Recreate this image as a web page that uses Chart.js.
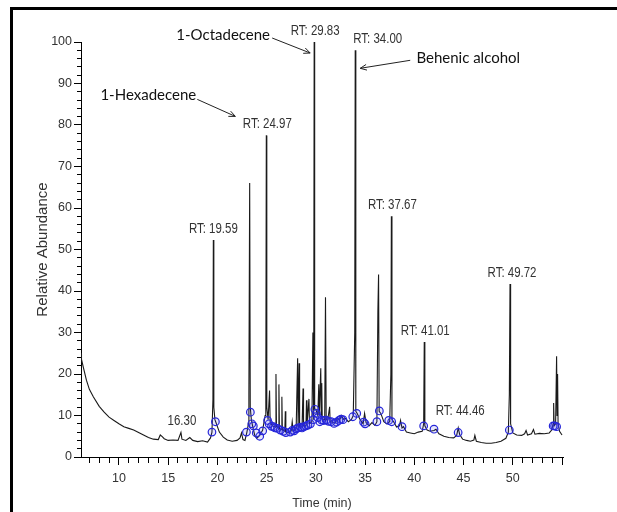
<!DOCTYPE html>
<html><head><meta charset="utf-8">
<script src="https://cdn.jsdelivr.net/npm/chart.js@4.4.1/dist/chart.umd.min.js"></script>
<style>
html,body{margin:0;padding:0;background:#fff;overflow:hidden;}
canvas{display:block;}
</style></head><body>
<canvas id="c" width="617" height="512"></canvas>
<script>
// ---- data (retention time in min, relative abundance in %) ----
const times = [6.15,6.2,6.4,6.7,7.0,7.4,8.0,8.5,9.0,9.5,10.0,10.5,11.0,11.5,12.0,12.5,13.0,13.5,14.0,14.2,14.4,14.6,15.0,15.5,16.0,16.3,16.4,16.8,17.2,17.5,18.0,18.5,19.0,19.3,19.45,19.55,19.59,19.64,19.75,19.9,20.2,20.6,21.0,21.5,22.0,22.3,22.45,22.6,22.8,23.0,23.15,23.2,23.28,23.34,23.45,23.6,23.8,24.0,24.3,24.6,24.85,24.92,24.97,25.02,25.15,25.3,25.36,25.6,25.9,25.95,26.0,26.2,26.25,26.3,26.5,26.55,26.6,26.85,26.9,26.95,27.2,27.5,27.6,27.7,28.0,28.15,28.2,28.3,28.35,28.6,28.7,28.75,29.0,29.05,29.1,29.3,29.35,29.6,29.7,29.78,29.83,29.88,30.0,30.2,30.3,30.35,30.5,30.55,30.6,30.65,30.9,30.98,31.05,31.2,31.4,31.45,31.7,32.0,32.2,32.4,32.6,32.8,33.0,33.3,33.6,33.8,33.95,34.0,34.06,34.2,34.5,34.8,34.95,35.1,35.4,35.7,36.0,36.2,36.3,36.37,36.43,36.6,36.9,37.2,37.5,37.62,37.67,37.73,37.9,38.2,38.5,38.6,38.75,38.9,39.2,39.6,40.0,40.4,40.8,40.95,41.01,41.07,41.3,41.6,42.0,42.2,42.5,43.0,43.5,44.0,44.3,44.46,44.6,44.9,45.3,45.7,46.05,46.15,46.3,46.8,47.3,47.8,48.3,48.8,49.3,49.55,49.65,49.72,49.78,50.0,50.4,50.9,51.2,51.35,51.5,51.9,52.1,52.25,52.7,53.2,53.7,53.95,54.1,54.15,54.2,54.35,54.45,54.5,54.55,54.6,54.75,55.0];
const abundance = [25.0,23.5,21.5,18.5,16.3,14.5,12.2,10.8,9.6,8.8,8.0,7.3,6.9,6.5,5.9,5.3,4.7,4.3,4.2,5.3,4.9,4.4,4.0,4.1,4.0,5.9,4.3,4.0,4.7,4.0,3.7,3.9,3.6,4.6,6.0,14,52.3,12,9.0,8.0,6.0,4.8,4.1,3.8,4.0,4.6,5.8,4.2,4.0,6.0,8,15,66,12,9,7.2,5.2,4.5,5.2,6.5,10,16,77.5,12,9,16,8.5,7.5,7.2,20,7.5,7.0,17.5,6.8,6.6,14.5,6.5,6.2,11,6.0,5.8,6.3,8.5,6.2,6.8,23.8,7.2,22.6,7.2,7.3,16.5,7.5,7.5,13.7,7.8,14,8,8.5,30,9,100,11.5,11.5,10,17.5,10,21.4,9.5,17.8,9.2,9,38.5,9,8.8,12.1,8.6,8.3,8.2,9.5,8.8,10,9.1,9.3,8.5,9.0,10,30,98,11,10.5,9,8.0,10.5,8.3,7.5,8.3,7.6,8.5,35,44,11,10.5,8.5,8.0,8.5,20,58,9,8.5,7.2,7.5,8.8,7.0,7.3,6.0,5.8,5.6,6.0,6.2,8,27.7,7.5,6.5,6.2,6.4,6.7,5.6,5.0,4.7,4.6,5.2,7.0,5.5,4.3,4.0,3.8,4.1,5.2,3.8,3.5,3.3,3.3,3.5,3.8,4.5,6.0,15,41.7,8,5.8,5.3,5.2,5.6,6.4,5.3,5.6,6.6,5.5,5.7,5.6,5.8,6.5,8,13,7.5,8,24.3,10,20,8,6.2,5.3];
const markerTimes = [19.45,19.8,22.95,23.35,23.5,23.65,23.95,24.3,24.6,25.1,25.25,25.5,25.7,25.85,26.1,26.4,26.7,26.95,27.4,27.6,27.8,28.0,28.2,28.45,28.6,28.8,29.0,29.2,29.45,29.75,29.9,30.05,30.2,30.4,30.6,30.8,31.05,31.3,31.55,31.85,32.1,32.35,32.55,32.75,33.75,34.15,34.85,35.0,36.2,36.45,37.4,37.7,38.75,40.95,42.0,44.45,49.65,54.1,54.25,54.45];
const markerAbundance = [6.0,8.5,6.0,10.8,8.0,7.5,5.8,5.0,6.3,8.8,8.0,7.4,7.3,7.0,6.9,6.5,6.2,5.9,6.0,6.4,6.3,6.8,7.0,7.2,7.0,7.3,7.5,7.7,8.0,9.0,11.5,10.5,9.5,8.5,8.9,8.8,8.9,8.6,8.5,8.1,8.4,8.8,9.1,9.0,9.7,10.5,8.4,8.0,8.5,11.1,8.8,8.5,7.3,7.5,6.7,5.9,6.5,7.5,7.5,7.3];
const rtLabels = ['16.30','RT: 19.59','RT: 24.97','RT: 29.83','RT: 34.00','RT: 37.67','RT: 41.01','RT: 44.46','RT: 49.72'];
const rtLabelTimes = [16.30,19.59,24.97,29.83,34.00,37.67,41.01,44.46,49.72];
const rtLabelValues = [5.9,52.3,77.5,100,98,58,27.7,8.5,41.7];
const compoundNames = ['1-Hexadecene','1-Octadecene','Behenic alcohol'];
const compoundTimes = [24.97,29.83,34.00];
const compoundValues = [77.5,100,98];
const xLabelledTicks = [10,15,20,25,30,35,40,45,50];
const yLabelledTicks = [0,10,20,30,40,50,60,70,80,90,100];

const SANS = "'Liberation Sans',Arial,sans-serif";
const PADL = 20;

function drawArrow(ctx,x1,y1,x2,y2){
  ctx.beginPath(); ctx.moveTo(x1,y1); ctx.lineTo(x2,y2);
  const a=Math.atan2(y2-y1,x2-x1), L=7, w=0.42;
  ctx.moveTo(x2-L*Math.cos(a-w), y2-L*Math.sin(a-w)); ctx.lineTo(x2,y2);
  ctx.lineTo(x2-L*Math.cos(a+w), y2-L*Math.sin(a+w));
  ctx.stroke();
}

const frame = {
  id:'frame',
  afterDraw(chart){
    const ctx = chart.ctx;
    ctx.save();
    ctx.fillStyle = '#000';
    ctx.fillRect(10, 7, 3, chart.height - 7);
    ctx.fillRect(10, 7, chart.width - 10, 3);
    ctx.restore();
  }
};

const annotate = {
  id:'annotate',
  afterDraw(chart, args, opts){
    const {ctx, scales:{x,y}} = chart;
    const SX = 0.82;
    ctx.save();
    ctx.font = "14px " + SANS;
    ctx.fillStyle = '#333';
    ctx.textBaseline = 'middle';
    rtLabels.forEach((t,i)=>{
      const px = x.getPixelForValue(rtLabelTimes[i]) + (opts.rtDx[i] || 0);
      const py = y.getPixelForValue(rtLabelValues[i]) - 11;
      const align = opts.rtAlign[i] || 'center';
      ctx.save();
      ctx.translate(px, py);
      ctx.scale(SX, 1);
      ctx.textAlign = align;
      ctx.fillText(t, 0, 0);
      ctx.restore();
    });
    ctx.font = "15px Lato, 'Open Sans', sans-serif";
    ctx.fillStyle = '#111';
    ctx.textAlign = 'center';
    ctx.strokeStyle = '#222'; ctx.lineWidth = 1;
    compoundNames.forEach((n,i)=>{
      const px = x.getPixelForValue(compoundTimes[i]);
      const py = y.getPixelForValue(compoundValues[i]);
      const o = opts.compound[i];
      ctx.fillText(n, px + o.tx, py + o.ty);
      drawArrow(ctx, px + o.a[0], py + o.a[1], px + o.a[2], py + o.a[3]);
    });
    ctx.restore();
  }
};

new Chart(document.getElementById('c'), {
  type:'line',
  data:{
    datasets:[
      { type:'scatter', label:'peaks', order:0,
        data: markerTimes.map((t,i)=>({x:t,y:markerAbundance[i]})),
        pointStyle:'circle', pointRadius:3.8, pointBorderWidth:1.2,
        pointBorderColor:'#2626d9', pointBackgroundColor:'rgba(60,60,230,0.12)', showLine:false },
      { label:'TIC', order:1,
        data: times.map((t,i)=>({x:t,y:abundance[i]})),
        borderColor:'#1a1a1a', borderWidth:1.1, pointRadius:0, tension:0, fill:false }
    ]
  },
  options:{
    responsive:false, animation:false, devicePixelRatio:1,
    layout:{padding:{left:PADL, top:42, right:54, bottom:0}},
    plugins:{ legend:{display:false}, tooltip:{enabled:false},
      annotate:{
        rtDx:[1,0,1,1,-2,1,1,2,2],
        rtAlign:[null,null,null,null,'left',null,null,null,null],
        compound:[
          {tx:-118, ty:-40, a:[-69,-36,-31,-19]},
          {tx:-91, ty:-7, a:[-42,-4,-4,11]},
          {tx:113, ty:8, a:[55,10,5,18]}
        ]
      }
    },
    scales:{
      x:{ type:'linear', min:6.15, max:55.1,
        afterFit(s){ s.height = 55; },
        ticks:{ stepSize:1, includeBounds:false, autoSkip:false, maxRotation:0, padding:6,
          color:'#333', font:{family:SANS, size:12.5},
          callback:(v)=> (xLabelledTicks.includes(v) ? String(v) : '') },
        grid:{ drawOnChartArea:false, drawTicks:true, tickLength:8, tickColor:'#000', tickWidth:1,
          tickBorderDash:(c)=> (c.tick && c.tick.value%5===0) ? [] : [5,100] },
        border:{display:true, color:'#000', width:1},
        title:{display:true, text:'Time (min)', color:'#333', font:{family:SANS, size:12.5}, padding:{top:0,bottom:1}}
      },
      y:{ type:'linear', min:0, max:100,
        afterFit(s){ s.width = 81 - PADL; },
        ticks:{ stepSize:2, autoSkip:false, padding:2, color:'#333', font:{family:SANS, size:12.5},
          callback:(v)=> (yLabelledTicks.includes(v) ? String(v) : '') },
        grid:{ drawOnChartArea:false, drawTicks:true, tickLength:7, tickColor:'#000', tickWidth:1,
          tickBorderDash:(c)=> (c.tick && c.tick.value%10===0) ? [] : [0,3,4,100] },
        border:{display:true, color:'#000', width:1},
        title:{display:true, text:'Relative Abundance', color:'#333', font:{family:SANS, size:15}, padding:{top:14,bottom:0}}
      }
    }
  },
  plugins:[annotate, frame]
});
</script>
</body></html>
